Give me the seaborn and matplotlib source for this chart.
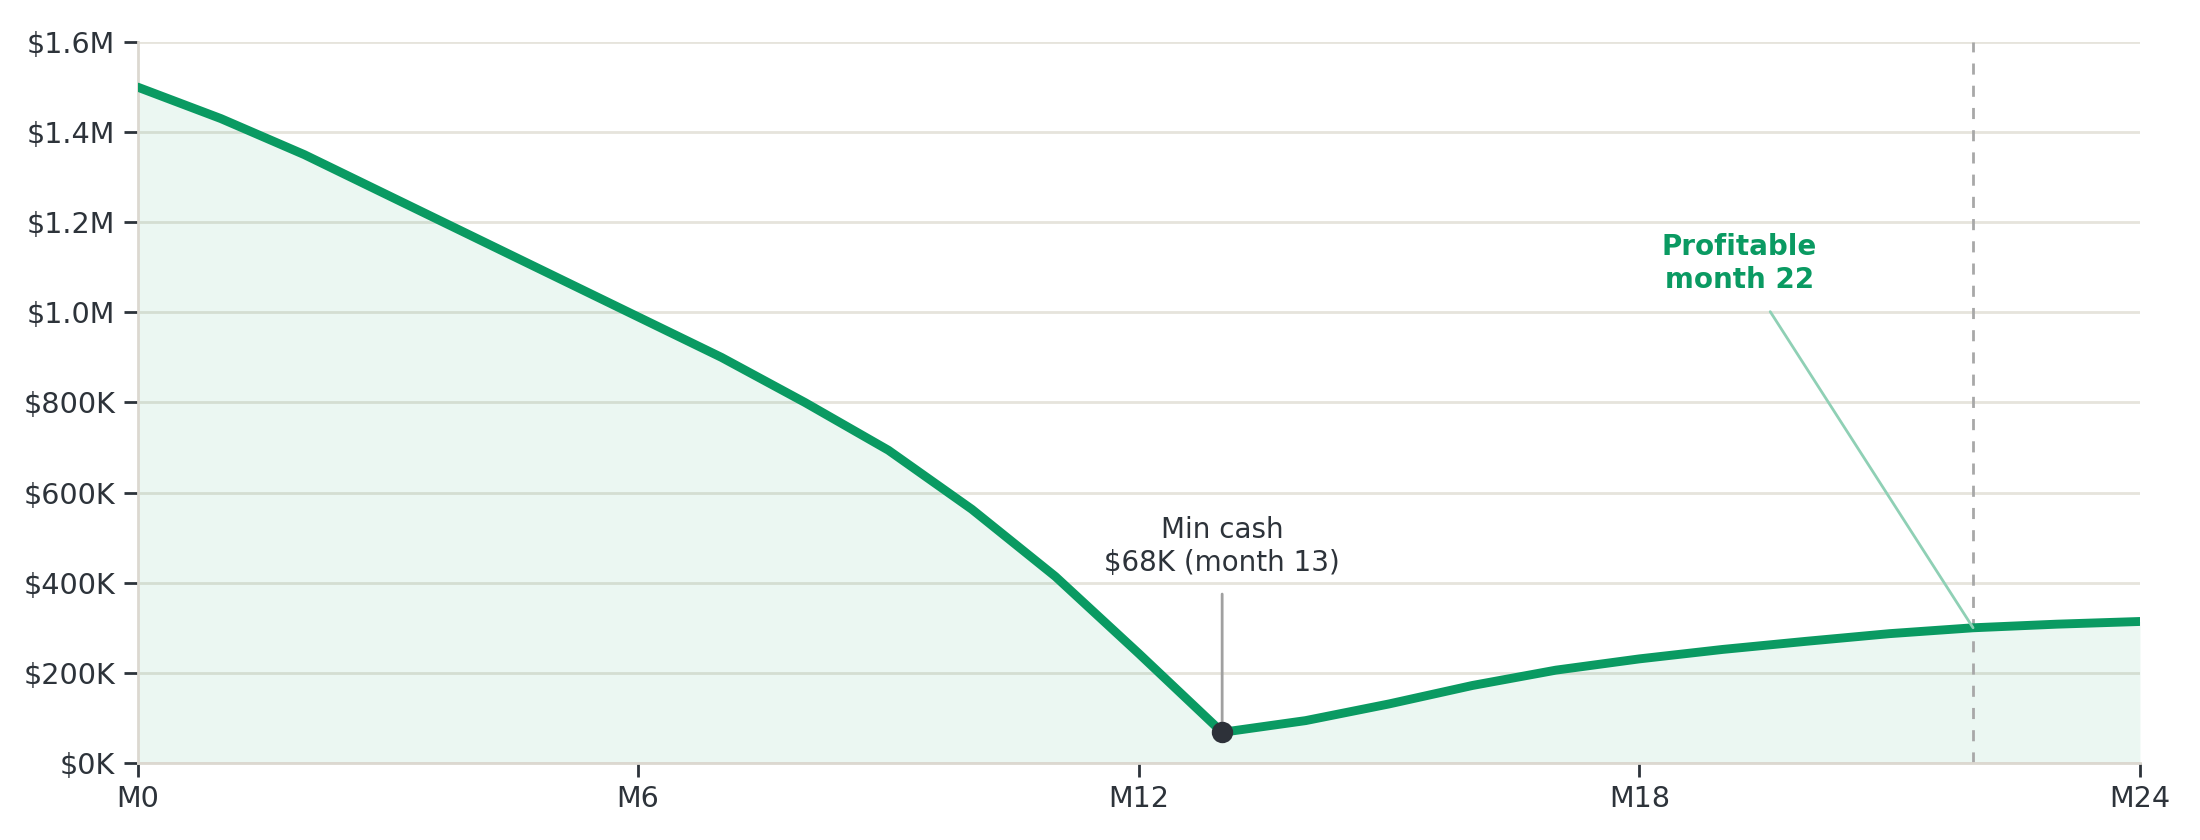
import matplotlib
matplotlib.use("Agg")
import matplotlib.pyplot as plt
import seaborn as sns
import pandas as pd

# cash balance by month (in $M)
months = list(range(0, 25))
cash = [1.50, 1.43, 1.35, 1.26, 1.17, 1.08, 0.99, 0.90, 0.80, 0.694, 0.563, 0.414, 0.243,
        0.068, 0.094, 0.131, 0.172, 0.206, 0.231, 0.252, 0.270, 0.287, 0.300, 0.308, 0.314]

x_ticks = [0, 6, 12, 18, 24]
x_labels = ["M0", "M6", "M12", "M18", "M24"]
y_ticks = [0, 0.2, 0.4, 0.6, 0.8, 1.0, 1.2, 1.4, 1.6]
y_labels = ["$0K", "$200K", "$400K", "$600K", "$800K", "$1.0M", "$1.2M", "$1.4M", "$1.6M"]

min_month, min_cash = 13, 0.068
profit_month = 22

green = "#0a9a62"
ink = "#2d333a"
grid = "#e6e4dc"

data = pd.DataFrame({"month": months, "cash": cash})

sns.set_theme(style="white")
plt.rcParams["font.family"] = ["DejaVu Sans"]

fig, ax = plt.subplots(figsize=(11, 4.2), dpi=200)
fig.subplots_adjust(left=0.0625, right=0.9727, top=0.95, bottom=0.0917)

ax.fill_between(data["month"], data["cash"], 0, color=green, alpha=0.08, linewidth=0, zorder=1)
sns.lineplot(x="month", y="cash", data=data, ax=ax, color=green, linewidth=3.2, zorder=3)

ax.axvline(profit_month, color="#a8a8a8", linestyle=(0, (4, 4)), linewidth=1.0, zorder=2)

ax.scatter([min_month], [min_cash], s=45, color="#2d3139", zorder=5)
ax.annotate("Min cash\n$68K (month 13)", xy=(min_month, min_cash), xytext=(min_month, 0.48),
            ha="center", va="center", fontsize=10, color=ink,
            arrowprops=dict(arrowstyle="-", color="#a0a0a0", lw=1.0, shrinkA=4, shrinkB=0))

ax.annotate("Profitable\nmonth 22", xy=(profit_month, cash[profit_month]), xytext=(19.2, 1.108),
            ha="center", va="center", fontsize=10, fontweight="bold", color=green,
            arrowprops=dict(arrowstyle="-", color="#8fd0b5", lw=1.0, shrinkA=5, shrinkB=0))

ax.set_xlim(0, 24)
ax.set_ylim(0, 1.6)
ax.set_xticks(x_ticks)
ax.set_xticklabels(x_labels)
ax.set_yticks(y_ticks)
ax.set_yticklabels(y_labels)
ax.set_xlabel("")
ax.set_ylabel("")

ax.grid(axis="y", color=grid, linewidth=1.0, zorder=0)
ax.set_axisbelow(True)
ax.tick_params(axis="both", labelsize=10.3, colors=ink, length=5, width=1.0, direction="out",
               pad=3, bottom=True, left=True)
for side in ["top", "right"]:
    ax.spines[side].set_visible(False)
for side in ["left", "bottom"]:
    ax.spines[side].set_color("#dcd8d0")
    ax.spines[side].set_linewidth(1.0)

plt.savefig("out.png", dpi=200)
